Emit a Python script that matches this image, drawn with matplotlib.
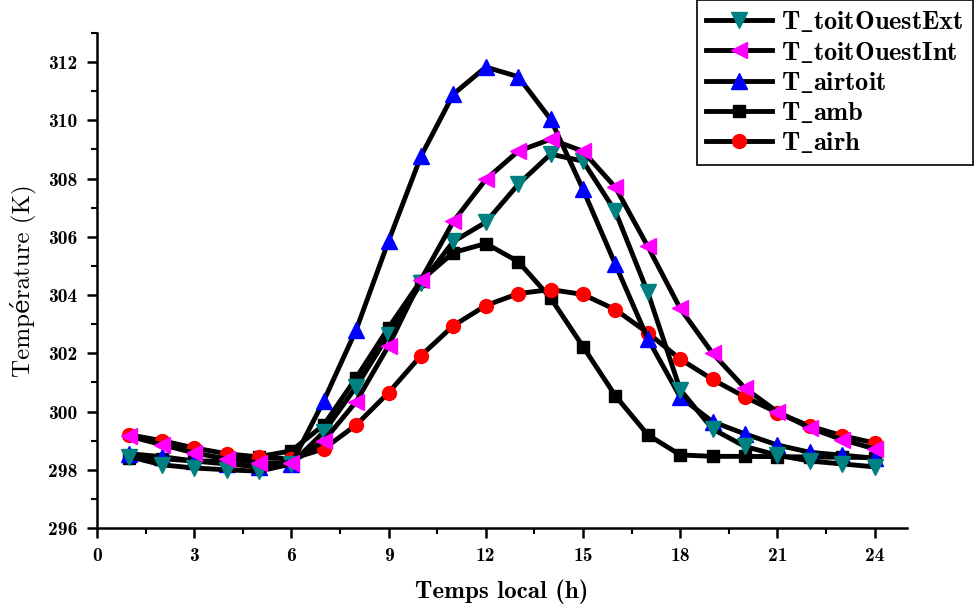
import numpy as np
import matplotlib
matplotlib.use('Agg')
import matplotlib.pyplot as plt
from matplotlib.ticker import MultipleLocator

hours = np.arange(1, 25)

T_toitOuestExt = [298.45, 298.17, 298.06, 298.0, 297.95, 298.2, 299.3, 300.85, 302.64, 304.4,
                  305.84, 306.5, 307.8, 308.84, 308.6, 306.87, 304.09, 300.75, 299.4, 298.8,
                  298.5, 298.3, 298.2, 298.1]
T_toitOuestInt = [299.15, 298.86, 298.58, 298.37, 298.24, 298.24, 298.99, 300.34, 302.26, 304.53,
                  306.53, 307.97, 308.94, 309.35, 308.94, 307.7, 305.67, 303.54, 302.0, 300.8,
                  299.99, 299.44, 299.03, 298.72]
T_airtoit = [298.55, 298.45, 298.3, 298.2, 298.1, 298.2, 300.37, 302.81, 305.86, 308.77,
             310.9, 311.83, 311.5, 310.04, 307.63, 305.05, 302.5, 300.5, 299.65, 299.23,
             298.85, 298.6, 298.5, 298.4]
T_amb = [298.4, 298.38, 298.3, 298.3, 298.45, 298.65, 299.54, 301.16, 302.88, 304.5,
         305.46, 305.77, 305.15, 303.9, 302.23, 300.54, 299.2, 298.51, 298.46, 298.46,
         298.45, 298.44, 298.43, 298.42]
T_airh = [299.2, 299.0, 298.75, 298.55, 298.44, 298.37, 298.72, 299.54, 300.65, 301.92,
          302.95, 303.64, 304.05, 304.19, 304.02, 303.5, 302.7, 301.8, 301.1, 300.5,
          299.96, 299.5, 299.17, 298.92]

names = ['T_toitOuestExt', 'T_toitOuestInt', 'T_airtoit', 'T_amb', 'T_airh']

plt.rcParams['font.family'] = ['cmb10', 'DejaVu Serif']
plt.rcParams['mathtext.fontset'] = 'cm'

fig = plt.figure(figsize=(9.75, 6.1), dpi=100)
ax = fig.add_axes([97/975, 1-528/610, (907-97)/975, (528-33)/610])

lw = 3.5
ms = 10
l_amb, = ax.plot(hours, T_amb, '-s', color='black', mfc='black', mec='black', lw=lw, ms=ms-1)
l_airh, = ax.plot(hours, T_airh, '-o', color='black', mfc='red', mec='red', lw=lw, ms=ms)
l_airtoit, = ax.plot(hours, T_airtoit, '-^', color='black', mfc='blue', mec='blue', lw=lw, ms=ms+1)
l_ext, = ax.plot(hours, T_toitOuestExt, '-v', color='black', mfc='#008080', mec='#008080', lw=lw, ms=ms+1)
l_int, = ax.plot(hours, T_toitOuestInt, '-<', color='black', mfc='magenta', mec='magenta', lw=lw, ms=ms+1)

ax.set_xlim(0, 25)
ax.set_ylim(296, 313)
ax.xaxis.set_major_locator(MultipleLocator(3))
ax.xaxis.set_minor_locator(MultipleLocator(1.5))
ax.yaxis.set_major_locator(MultipleLocator(2))
ax.yaxis.set_minor_locator(MultipleLocator(1))
ax.spines['top'].set_visible(False)
ax.spines['right'].set_visible(False)
ax.spines['left'].set_linewidth(1.8)
ax.spines['bottom'].set_linewidth(1.8)
ax.tick_params(which='major', length=7, width=1.8, labelsize=14, direction='out', pad=7)
ax.tick_params(which='minor', length=4, width=1.5, direction='out')

ax.set_xlabel('Temps local (h)', fontsize=18, labelpad=10)
ax.set_ylabel('Température (K)', fontsize=18, family=['cmr10', 'DejaVu Serif'], labelpad=9)

labels = [r'$\mathbf{' + n.replace('_', r'\_') + '}$' for n in names]
leg = fig.legend([l_ext, l_int, l_airtoit, l_amb, l_airh], labels,
                 loc='upper left', bbox_to_anchor=(697/975, 1.0), fontsize=19,
                 handlelength=2.5, handletextpad=0.35, fancybox=False, edgecolor='black',
                 framealpha=1, borderaxespad=0, labelspacing=0.2, borderpad=0.35)
leg.get_frame().set_linewidth(1.2)

fig.savefig('out.png', dpi=100)
